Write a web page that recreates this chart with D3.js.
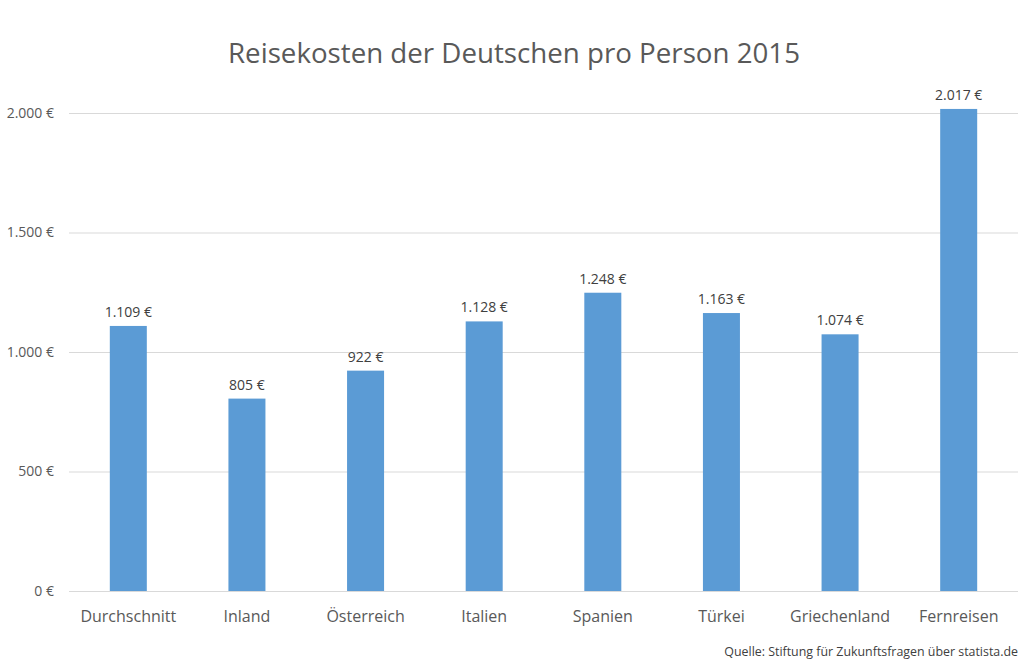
<!DOCTYPE html>
<html><head><meta charset="utf-8">
<script src="https://cdn.jsdelivr.net/npm/d3@7"></script>
<style>body{margin:0;background:#fff;} svg{display:block;font-family:"Open Sans","Noto Sans",sans-serif;}</style>
</head><body>
<svg id="c" width="1032" height="665"></svg>
<script>
const categories = ["Durchschnitt","Inland","Österreich","Italien","Spanien","Türkei","Griechenland","Fernreisen"];
const values = [1109,805,922,1128,1248,1163,1074,2017];
const yTicks = [0,500,1000,1500,2000];
const title = "Reisekosten der Deutschen pro Person 2015";
const source = "Quelle: Stiftung für Zukunftsfragen über statista.de";

const fmt = v => d3.format(",")(v).replace(/,/g,".") + " €";
const svg = d3.select("#c");
const x = d3.scaleBand().domain(categories).range([69,1018]).paddingInner(0.688).paddingOuter(0.344);
const y = d3.scaleLinear().domain([0,2000]).range([591,113]);

svg.append("g").selectAll("line").data(yTicks).join("line")
  .attr("x1",69).attr("x2",1018).attr("y1",d=>y(d)+0.5).attr("y2",d=>y(d)+0.5)
  .attr("stroke","#d9d9d9").attr("stroke-width",1);

svg.append("g").selectAll("text").data(yTicks).join("text")
  .attr("x",54).attr("y",d=>y(d)).attr("dy","0.35em").attr("text-anchor","end")
  .attr("font-size",14).attr("fill","#595959").text(fmt);

svg.append("g").selectAll("rect").data(values).join("rect")
  .attr("x",(d,i)=>x(categories[i])).attr("width",x.bandwidth())
  .attr("y",d=>y(d)).attr("height",d=>y(0)-y(d)).attr("fill","#5b9bd5");

svg.append("g").selectAll("text").data(values).join("text")
  .attr("x",(d,i)=>x(categories[i])+x.bandwidth()/2).attr("y",d=>y(d)-9)
  .attr("text-anchor","middle").attr("font-size",14).attr("fill","#404040").text(fmt);

svg.append("g").selectAll("text").data(categories).join("text")
  .attr("x",d=>x(d)+x.bandwidth()/2).attr("y",622)
  .attr("text-anchor","middle").attr("font-size",16).attr("fill","#595959").text(d=>d);

svg.append("text").attr("x",514).attr("y",63).attr("text-anchor","middle")
  .attr("font-size",27.7).attr("fill","#595959").text(title);

svg.append("text").attr("x",1018).attr("y",656).attr("text-anchor","end")
  .attr("font-size",12.4).attr("fill","#404040").text(source);
</script>
</body></html>
